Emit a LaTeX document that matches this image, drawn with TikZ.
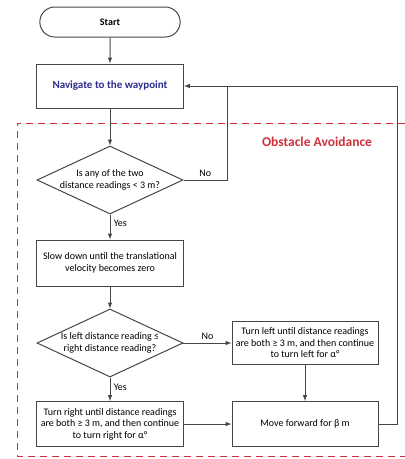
\documentclass[tikz,border=0pt]{standalone}
\usepackage{fontspec}
\setmainfont{Carlito}
\usepackage{tikz}
\tikzset{>=latex}
\usetikzlibrary{shapes}
\usetikzlibrary{calc}
\definecolor{linegray}{RGB}{70,70,70}
\definecolor{avoidred}{RGB}{205,50,60}
\definecolor{navblue}{RGB}{45,45,140}

\begin{document}
\begin{tikzpicture}[x=1pt,y=-1pt,
                every node/.style={font=\fontsize{10}{11.5}\selectfont, align=center},
                flowbox/.style={draw=linegray, line width=1pt, fill=white, minimum width=147pt, minimum height=44pt, inner sep=1pt},
                terminal/.style={draw=linegray, line width=1pt, rounded rectangle, minimum width=147pt, minimum height=30pt},
                decision/.style={draw=linegray, line width=1pt, diamond, aspect=2.15, minimum width=146pt, minimum height=68pt, inner xsep=-20pt, inner ysep=-6pt},
                flow/.style={->, draw=linegray, line width=1pt},
                answer/.style={font=\fontsize{10}{11.5}\selectfont}
            ]
            \useasboundingbox (0,0) rectangle (405,459);
            % obstacle avoidance region
            \draw[draw=avoidred, line width=1pt, dash pattern=on 7pt off 5pt]
                (405,123) -- (17,123) -- (17,456) -- (405,456);
            \node[text=avoidred, font=\bfseries\fontsize{13.5}{15}\selectfont] (avoid) at (317,142) {Obstacle Avoidance};

            \node[terminal, font=\bfseries\fontsize{10}{11.5}\selectfont] (start) at (110,22) {Start};
            \node[flowbox, text=navblue, font=\bfseries\fontsize{11}{13}\selectfont] (nav) at (110,86) {Navigate to the waypoint};
            \node[decision] (anyread) at (110,180) {Is any of the two\\distance readings < 3 m?};
            \node[flowbox, minimum height=46pt] (slow) at (110,263) {Slow down until the translational\\velocity becomes zero};
            \node[decision] (leftright) at (110,343) {Is left distance reading ≤\\right distance reading?};
            \node[flowbox, minimum width=146pt, minimum height=43pt] (turnleft) at (305,343) {Turn left until distance readings\\are both ≥ 3 m, and then continue\\to turn left for α°};
            \node[flowbox, minimum height=45pt] (turnright) at (110,424) {Turn right until distance readings\\are both ≥ 3 m, and then continue\\to turn right for α°};
            \node[flowbox, minimum width=146pt, minimum height=45pt] (forward) at (305,424) {Move forward for β m};

            \coordinate (nojoin) at (227,86);
            \coordinate (loopback) at (397,86);

            \draw[flow] (start) -- (nav);
            \draw[flow] (nav) -- (anyread);
            \draw[flow] (anyread) -- node[answer, right, pos=0.35] {Yes} (slow);
            \draw[flow] (slow) -- (leftright);
            \draw[flow] (leftright) -- node[answer, above] {No} (turnleft);
            \draw[flow] (leftright) -- node[answer, right, pos=0.4] {Yes} (turnright);
            \draw[flow] (turnleft) -- (forward);
            \draw[flow] (turnright) -- (forward);
            \draw[draw=linegray, line width=1pt] (anyread.east) -- node[answer, above] {No} (anyread.east -| nojoin) -- (nojoin);
            \draw[flow] (forward.east) -- (forward.east -| loopback) -- (loopback) -- (nav.east);
        \end{tikzpicture}
\end{document}
